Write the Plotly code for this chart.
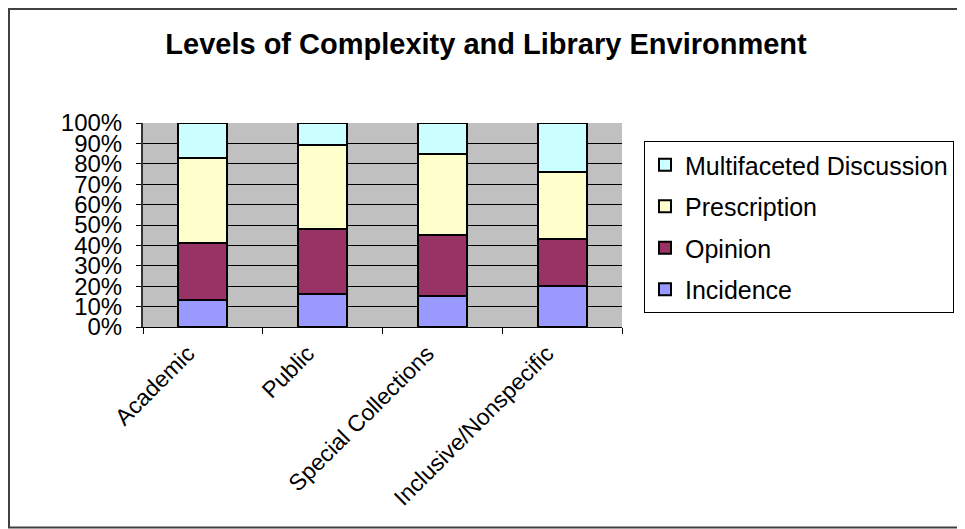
import plotly.graph_objects as go

categories = ["Academic", "Public", "Special Collections", "Inclusive/Nonspecific"]

# share of items per level of complexity (percent of each environment)
incidence = [13, 16, 15, 20]
opinion = [28, 32, 30, 23]
prescription = [42, 41, 40, 33]
multifaceted = [17, 11, 15, 24]

series = [
    ("Incidence", incidence, "#9999FF"),
    ("Opinion", opinion, "#993366"),
    ("Prescription", prescription, "#FFFFCC"),
    ("Multifaceted Discussion", multifaceted, "#CCFFFF"),
]

FONT = "Liberation Sans, Arial, sans-serif"

# page has an 8px body margin, so figure coords = page coords - 8
W, H = 957, 521
L, R, T, B = 135, 614, 115, 319


def px_x(p):
    return (p - L) / (R - L)


def px_y(p):
    return (B - p) / (B - T)


fig = go.Figure()
for i, (name, vals, color) in enumerate(series):
    fig.add_trace(go.Bar(
        x=categories, y=vals, name=name, legendgroup=name,
        legendrank=len(series) - i,
        marker=dict(color=color, line=dict(color="black", width=2)),
    ))

fig.update_layout(
    width=W, height=H,
    barmode="stack", bargap=0.59,
    paper_bgcolor="white", plot_bgcolor="#C0C0C0",
    margin=dict(l=L, r=W - R, t=T, b=H - B, autoexpand=False),
    font=dict(family=FONT, size=24, color="black"),
    title=dict(
        text="<b>Levels of Complexity and Library Environment</b>",
        x=478 / W, xref="container", xanchor="center",
        y=1 - 36 / H, yref="container", yanchor="middle",
        font=dict(family=FONT, size=29, color="black"),
    ),
    legend=dict(
        x=px_x(636), xanchor="left", y=px_y(133), yanchor="top",
        traceorder="grouped", tracegroupgap=6,
        bordercolor="black", borderwidth=1, bgcolor="white",
        font=dict(family=FONT, size=25),
    ),
    shapes=[dict(
        type="rect", xref="paper", yref="paper",
        x0=px_x(1), x1=px_x(W + 20), y0=px_y(H - 1.5), y1=px_y(1),
        line=dict(color="#404040", width=2), layer="below",
    )],
)

fig.update_xaxes(
    tickson="boundaries", ticks="outside", ticklen=6, tickcolor="black",
    tickangle=-45, showgrid=False, ticklabelshift=-15, ticklabelstandoff=3,
    showline=True, linecolor="black", linewidth=1,
    tickfont=dict(family=FONT, size=23),
)
fig.update_yaxes(
    range=[0, 100], dtick=10, ticksuffix="%",
    ticks="outside", ticklen=5, tickcolor="black", ticklabelstandoff=9,
    showgrid=True, gridcolor="black", gridwidth=1,
    showline=True, linecolor="#333333", linewidth=2,
    mirror=False, zeroline=False,
    tickfont=dict(family=FONT, size=24),
)

fig.write_html("out.html")
